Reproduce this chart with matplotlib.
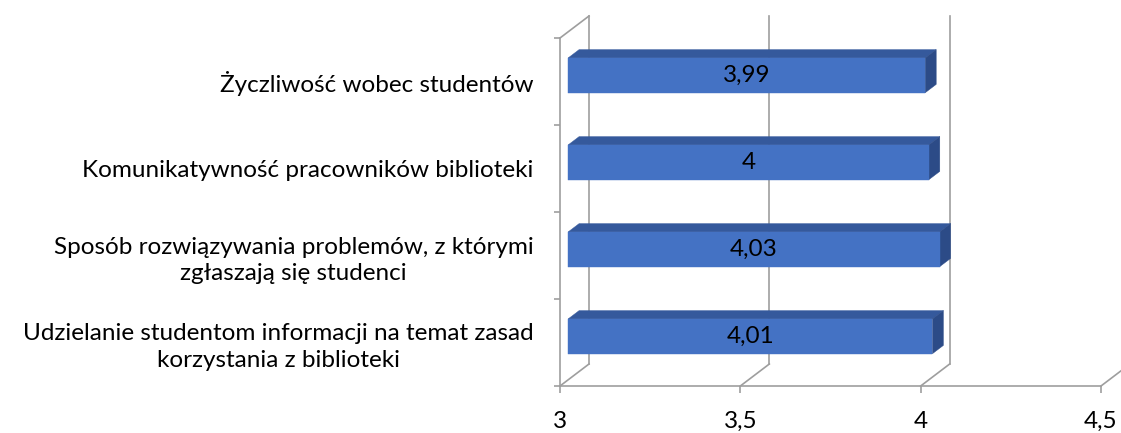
import matplotlib
matplotlib.use("Agg")
import matplotlib.pyplot as plt
from matplotlib.patches import Polygon
from matplotlib.lines import Line2D
from matplotlib.transforms import IdentityTransform

# data (bottom to top)
categories = [
    "Udzielanie studentom informacji na temat zasad\nkorzystania z biblioteki",
    "Sposób rozwiązywania problemów, z którymi\nzgłaszają się studenci",
    "Komunikatywność pracowników biblioteki",
    "Życzliwość wobec studentów",
]
values = [4.01, 4.03, 4.0, 3.99]
xticks = [3, 3.5, 4, 4.5]
xtick_labels = ["3", "3,5", "4", "4,5"]

plt.rcParams['font.family'] = ['Lato', 'DejaVu Sans']
plt.rcParams['font.size'] = 17.5

W, H = 1121, 433
fig = plt.figure(figsize=(W / 100, H / 100), dpi=100)
ax = fig.add_axes([560 / W, (H - 386) / H, 541 / W, 348 / H])
ax.set_xlim(3, 4.5)
ax.set_ylim(0, len(categories))
ax.patch.set_visible(False)

grid_col = "#9e9e9e"
front_col = "#4472c4"
top_col = "#35599c"
side_col = "#2c4b87"

# depth of the 3d box, in pixels
DX, DY = 29, 22
f1, f2 = 0.28, 0.66   # bar front / back depth
half = 0.2            # half bar height in category units


def proj(x, y, d):
    px, py = ax.transData.transform((x, y))
    return px + d * DX, py + d * DY


def seg(p0, p1, **kw):
    ax.add_line(Line2D([p0[0], p1[0]], [p0[1], p1[1]], transform=IdentityTransform(),
                       color=grid_col, lw=1.2, clip_on=False, **kw))


# back wall gridlines and floor diagonals
for xt in xticks:
    seg(proj(xt, 0, 1), proj(xt, len(categories), 1), zorder=1)
    seg(proj(xt, 0, 0), proj(xt, 0, 1), zorder=1)
seg(proj(3, len(categories), 0), proj(3, len(categories), 1), zorder=1)

# bars
for i, v in enumerate(values):
    c = i + 0.5
    lo, hi = c - half, c + half
    front = [proj(3, lo, f1), proj(v, lo, f1), proj(v, hi, f1), proj(3, hi, f1)]
    top = [proj(3, hi, f1), proj(v, hi, f1), proj(v, hi, f2), proj(3, hi, f2)]
    side = [proj(v, lo, f1), proj(v, lo, f2), proj(v, hi, f2), proj(v, hi, f1)]
    for pts, col in [(top, top_col), (side, side_col), (front, front_col)]:
        ax.add_patch(Polygon(pts, closed=True, facecolor=col, edgecolor=col, lw=0.3,
                             transform=IdentityTransform(), clip_on=False, zorder=3))
    lx, ly = proj((3 + v) / 2, c, f1)
    ax.text(lx, ly, f"{v:g}".replace('.', ','), transform=IdentityTransform(),
            ha='center', va='center', color='black', zorder=4)

# axes
for s in ['top', 'right']:
    ax.spines[s].set_visible(False)
for s in ['left', 'bottom']:
    ax.spines[s].set_color(grid_col)
    ax.spines[s].set_linewidth(1.2)

ax.set_xticks(xticks)
ax.set_xticklabels(xtick_labels)
ax.tick_params(axis='x', length=5, width=1.2, color=grid_col, pad=13)
ax.set_yticks(range(len(categories) + 1))
ax.set_yticklabels([])
ax.tick_params(axis='y', which='major', length=4.5, width=1.2, color=grid_col)
ax.set_yticks([i + 0.5 for i in range(len(categories))], minor=True)
ax.set_yticklabels(categories, minor=True)
ax.tick_params(axis='y', which='minor', length=0, pad=19)
for lab in ax.get_yticklabels(minor=True):
    lab.set_multialignment('center')
    lab.set_linespacing(1.35)

fig.savefig("out.png", dpi=100)
